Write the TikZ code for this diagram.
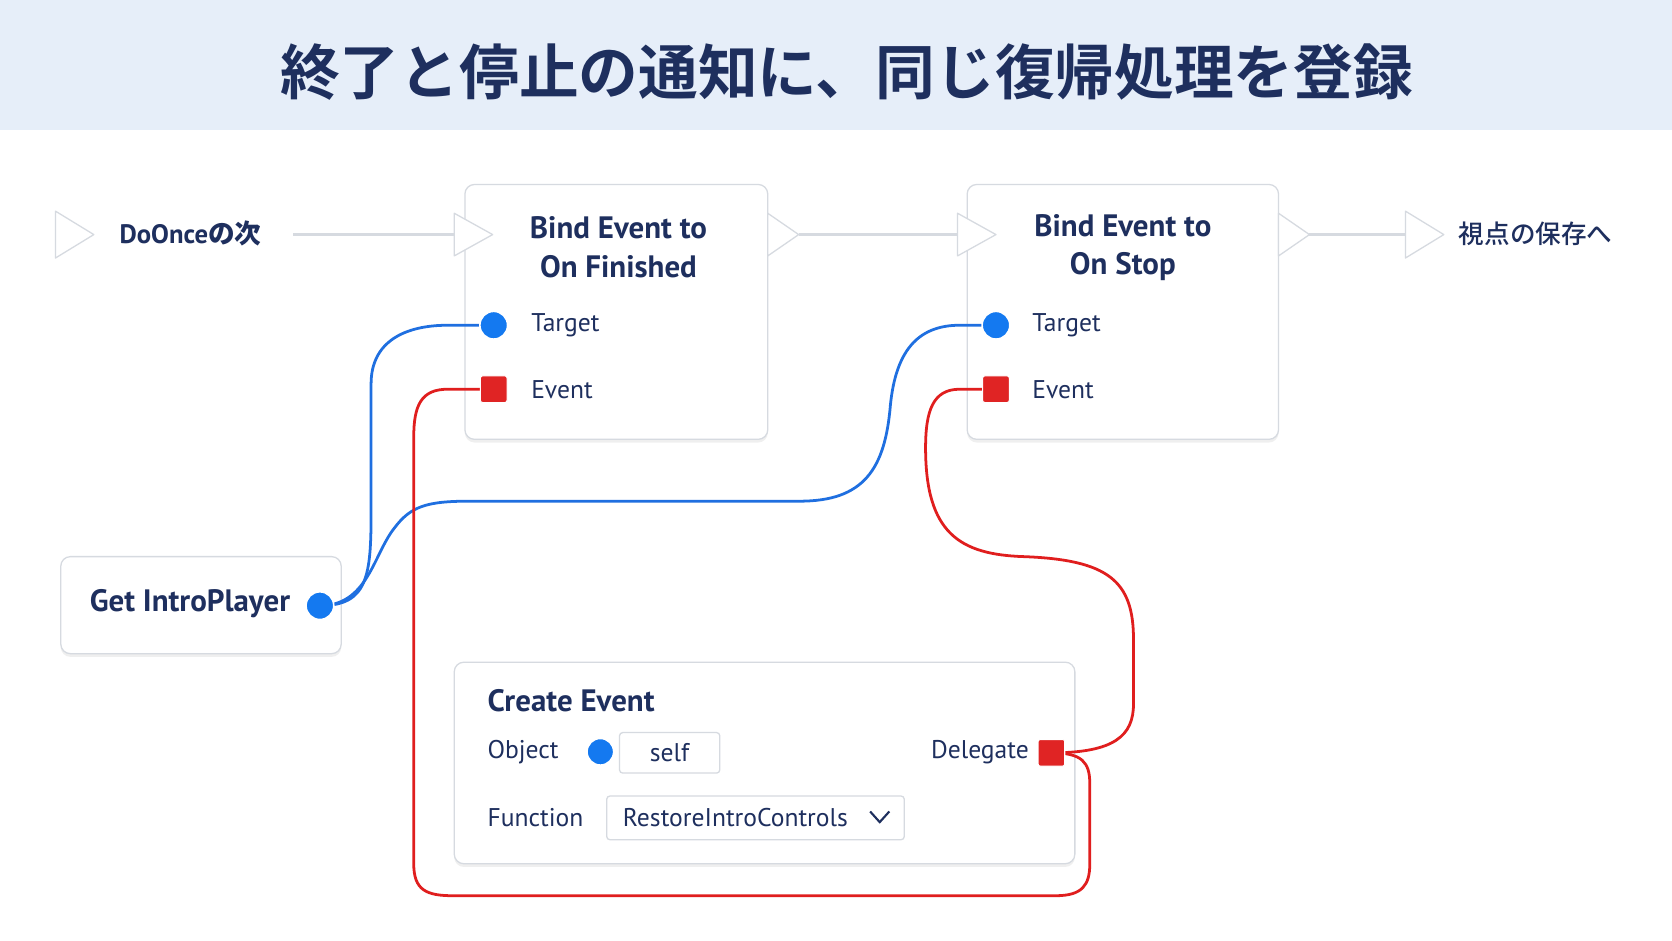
\documentclass[tikz,border=0pt]{standalone}
\usepackage{fontspec}
\setmainfont{PT Sans}
\newfontfamily\cjk{Noto Sans CJK JP Medium}
\newfontfamily\cjkb{Noto Sans CJK JP Bold}
\usetikzlibrary{shadows}
\definecolor{navy}{HTML}{1E2F5E}
\definecolor{band}{HTML}{E6EEF9}
\definecolor{pinb}{HTML}{1479F0}
\definecolor{pinr}{HTML}{E02424}
\definecolor{wireb}{HTML}{1F6FE0}
\definecolor{wirer}{HTML}{E01E1E}
\definecolor{edge}{HTML}{D6DAE0}
\begin{document}
\begin{tikzpicture}[x=1pt,y=-1pt,
 box/.style={draw=edge,line width=1.2pt,fill=white,rounded corners=9pt,drop shadow={opacity=0.12,shadow xshift=0pt,shadow yshift=-3pt}},
 txt/.style={text=navy,font=\fontsize{24}{26}\selectfont,inner sep=0},
 ttl/.style={text=navy,font=\bfseries\fontsize{29}{36}\selectfont,inner sep=0,align=center},
 bpin/.style={circle,fill=pinb,draw=white,line width=1.5pt,minimum size=26pt,inner sep=0},
 rpin/.style={rounded corners=2pt,fill=pinr,draw=white,line width=1pt,minimum size=25pt,inner sep=0},
 tri/.style={fill=white,draw=edge,line width=1.2pt,line join=round},
 exw/.style={draw=edge,line width=3.5pt},
 bw/.style={draw=wireb,line width=2.6pt},
 rw/.style={draw=wirer,line width=2.6pt}]
\useasboundingbox (0,0) rectangle (1568,882);
\fill[white] (0,0) rectangle (1568,882);
\fill[band] (0,0) rectangle (1568,122);
\node[text=navy,font=\cjkb\fontsize{56}{60}\selectfont,inner sep=0] (title) at (794,68) {終了と停止の通知に、同じ復帰処理を登録};
% boxes
\draw[box] (436,173) rectangle (720,412);
\draw[box] (907,173) rectangle (1199,412);
\draw[box] (57,522) rectangle (320,613);
\draw[box] (426,621) rectangle (1008,810);
\node[ttl] (b1) at (580,232) {Bind Event to\\ On Finished};
\node[ttl] (b2) at (1053,232) {Bind Event to\\ On Stop};
\node[ttl,anchor=west] (gip) at (84,566) {Get IntroPlayer};
\node[ttl,anchor=west] (ce) at (457,657) {Create Event};
\node[txt,anchor=west] (t1) at (498,305) {Target};
\node[txt,anchor=west] (e1) at (498,365) {Event};
\node[txt,anchor=west] (t2) at (968,305) {Target};
\node[txt,anchor=west] (e2) at (968,365) {Event};
\node[txt,anchor=west] (obj) at (457,705) {Object};
\node[txt,anchor=west] (fn) at (457,767) {Function};
\node[txt,anchor=east] (dl) at (965,705) {Delegate};
\node[draw=edge,line width=1.2pt,rounded corners=3pt,minimum width=94pt,minimum height=38pt,txt] (self) at (628,706) {self};
\node[draw=edge,line width=1.2pt,rounded corners=3pt,minimum width=279pt,minimum height=41pt,inner sep=0] (dd) at (708.5,767) {};
\node[txt,anchor=west] (rc) at (584,767) {RestoreIntroControls};
\draw[navy,line width=2pt] (816,761) -- (825,771) -- (834,761);
% exec
\draw[tri] (52,198) -- (88,220) -- (52,242) -- cycle;
\node[txt,anchor=west,font=\bfseries\fontsize{25}{26}\selectfont] (doo) at (112,219) {DoOnce{\cjk の次}};
\draw[exw] (275,220) -- (426,220);
\draw[tri] (426,200) -- (462,220) -- (426,240) -- cycle;
\draw[tri] (720,200) -- (749,220) -- (720,240) -- cycle;
\draw[exw] (749,220) -- (898,220);
\draw[tri] (898,200) -- (934,220) -- (898,240) -- cycle;
\draw[tri] (1199,200) -- (1228,220) -- (1199,240) -- cycle;
\draw[exw] (1228,220) -- (1318,220);
\draw[tri] (1318,198) -- (1354,220) -- (1318,242) -- cycle;
\node[txt,anchor=west] (next) at (1368,219) {\cjk 視点の保存へ};
% pins
\coordinate (p0) at (300,568);
\coordinate (pt1) at (463,305);
\coordinate (pe1) at (463,365);
\coordinate (pt2) at (934,305);
\coordinate (pe2) at (934,365);
\coordinate (pd) at (986,706);
% wires
\draw[bw] (p0) .. controls (345,568) and (348,540) .. (348,480) -- (348,360) .. controls (348,320) and (380,305) .. (420,305) -- (pt1);
\draw[bw] (p0) .. controls (345,568) and (350,520) .. (370,495) .. controls (385,475) and (400,470) .. (440,470) -- (750,470) .. controls (810,470) and (830,440) .. (835,380) .. controls (840,330) and (860,305) .. (900,305) -- (pt2);
\draw[rw] (pe1) -- (420,365) .. controls (395,365) and (388,380) .. (388,410) -- (388,810) .. controls (388,835) and (400,840) .. (425,840) -- (990,840) .. controls (1015,840) and (1022,830) .. (1022,810) -- (1022,735) .. controls (1022,715) and (1015,706) .. (pd);
\draw[rw] (pe2) -- (900,365) .. controls (875,365) and (868,385) .. (868,420) .. controls (868,500) and (900,520) .. (960,522) .. controls (1040,525) and (1063,545) .. (1063,600) -- (1063,660) .. controls (1063,690) and (1045,706) .. (pd);
\node[bpin] (n0) at (p0) {};
\node[bpin] (n1) at (pt1) {};
\node[bpin] (n2) at (pt2) {};
\node[rpin] (r1) at (pe1) {};
\node[rpin] (r2) at (pe2) {};
\node[rpin] (rd) at (pd) {};
\node[bpin,minimum size=25pt] (ob) at (563,705) {};
\end{tikzpicture}
\end{document}
